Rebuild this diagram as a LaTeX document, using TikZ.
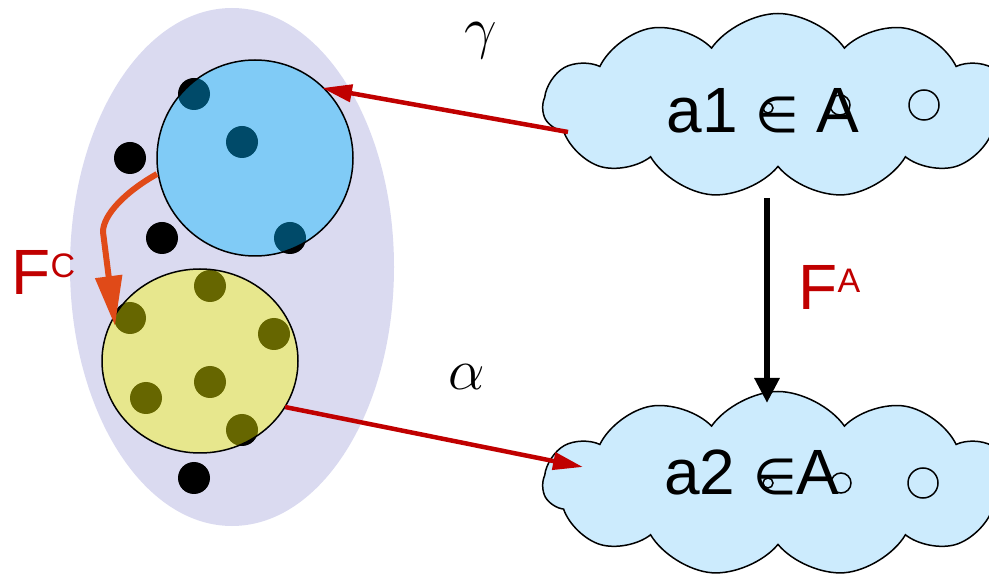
\RequirePackage{fix-cm}
\documentclass[tikz,border=0pt]{standalone}
\usepackage{fontspec}
\setmainfont{Liberation Sans}
\newfontfamily\djv{DejaVu Sans}
\usetikzlibrary{arrows.meta,shapes.symbols,shapes.geometric}
\definecolor{lav}{RGB}{218,218,240}
\definecolor{bluefill}{RGB}{0,182,255}
\definecolor{yelfill}{RGB}{250,250,0}
\definecolor{cloudfill}{RGB}{204,235,253}
\definecolor{darkred}{RGB}{192,0,0}
\definecolor{orng}{RGB}{224,74,24}
\tikzset{
  dot/.style={circle,fill=black,minimum size=32pt,inner sep=0pt},
  set/.style={draw=black,line width=1.5pt,fill opacity=0.41},
  cloudbox/.style={cloud,cloud puffs=11,cloud puff arc=110,aspect=2.5,draw=black,line width=1.5pt,fill=cloudfill,minimum width=470pt,minimum height=185pt,inner sep=0pt},
  bubble/.style={circle,draw=black,line width=1.5pt,inner sep=0pt},
  redarrow/.style={draw=darkred,line width=4.5pt,-{Triangle[length=30pt,width=17pt]}},
  greek/.style={font=\fontsize{58}{62}\selectfont},
  flabel/.style={text=darkred,font=\fontsize{64}{70}\selectfont},
  ctext/.style={font=\fontsize{64}{70}\selectfont}
}
\begin{document}
\begin{tikzpicture}[x=1pt,y=-1pt]
\useasboundingbox (0,0) rectangle (989,577);
% big ellipse
\fill[lav] (232,267) ellipse [x radius=162, y radius=259];
% dots
\foreach \n/\x/\y in {d1/130/158,d2/162/238,d3/194/478,d4/194/94,d5/242/142,d6/290/238,
  d7/210/286,d8/130/318,d9/274/334,d10/210/382,d11/146/398,d12/242/430}
  \node[dot] (\n) at (\x,\y) {};
% sets
\node[set,fill=bluefill,circle,minimum size=196pt,inner sep=0pt] (cblue) at (255,158) {};
\node[set,fill=yelfill,ellipse,minimum width=196pt,minimum height=184pt,inner sep=0pt] (cyel) at (200,361) {};
% clouds
\node[cloudbox] (c1) at (778,106) {};
\node[cloudbox] (c2) at (778,484) {};
\node[bubble,minimum size=10pt] (b1) at (768,108) {};
\node[bubble,minimum size=20pt] (b2) at (840,105) {};
\node[bubble,minimum size=30pt] (b3) at (924,105) {};
\node[bubble,minimum size=10pt] (b4) at (768,483) {};
\node[bubble,minimum size=20pt] (b5) at (841,483) {};
\node[bubble,minimum size=30pt] (b6) at (923,483) {};
\node[ctext,anchor=base] (t1) at (763,133) {a1 {\djv\fontsize{50}{50}\selectfont ∈} A};
\node[ctext,anchor=base] (t2) at (752,494) {a2 {\djv\fontsize{50}{50}\selectfont ∈}A};
% arrows
\coordinate (g1) at (568,132);
\coordinate (g2) at (322,88);
\draw[redarrow] (g1) -- (g2);
\coordinate (a1) at (285,407);
\coordinate (a2) at (583,467);
\draw[redarrow] (a1) -- (a2);
\coordinate (fa1) at (767,198);
\coordinate (fa2) at (767,403);
\draw[line width=6pt,-{Triangle[length=25pt,width=24pt]}] (fa1) -- (fa2);
\coordinate (fc1) at (157,174);
\coordinate (fc2) at (115,326);
\draw[orng,line width=6pt,line join=round,-{Triangle[length=50pt,width=26pt]}] (fc1) .. controls (125,192) and (103,215) .. (103,232) -- (fc2);
% labels
\node[greek,anchor=base] (gam) at (481,48) {$\gamma$};
\node[greek,anchor=base] (alp) at (467,390) {$\alpha$};
\node[flabel,anchor=base west] (fc) at (8,295) {F\raisebox{17pt}{\fontsize{34}{36}\selectfont C}};
\node[flabel,anchor=base west] (fa) at (795,310) {F\raisebox{17pt}{\fontsize{34}{36}\selectfont A}};
\end{tikzpicture}
\end{document}
